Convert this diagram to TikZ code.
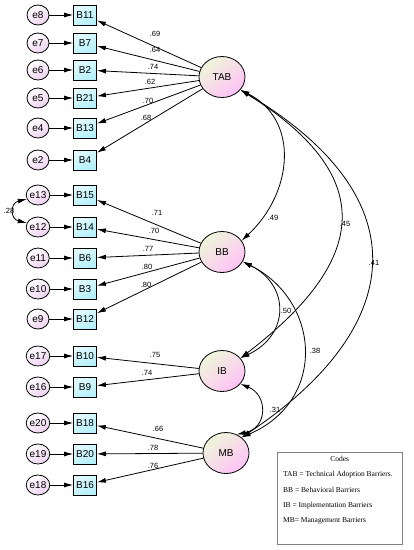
\documentclass[tikz,border=0pt]{standalone}
\usepackage{fontspec}
\setmainfont{Liberation Sans}
\newfontfamily\codesfont{Liberation Serif}
\usetikzlibrary{arrows.meta,shapes.geometric}
\definecolor{errf}{HTML}{EED2F0}
\definecolor{indf}{HTML}{B4F0FA}
\definecolor{latg}{HTML}{EEF6DA}
\definecolor{latp}{HTML}{FFC2F6}
\begin{document}
\begin{tikzpicture}[x=1pt,y=1pt,
  font=\fontsize{10}{11}\selectfont,
  err/.style={ellipse,draw,line width=0.8pt,top color=white,bottom color=errf,shading angle=30,minimum width=22pt,minimum height=20pt,inner sep=0pt},
  ind/.style={rectangle,draw,line width=0.8pt,top color=indf!40,bottom color=indf,shading angle=30,minimum width=23pt,minimum height=20pt,inner sep=0pt},
  lat/.style={ellipse,draw,line width=0.8pt,top color=latg,bottom color=latp,shading angle=40,minimum width=46pt,minimum height=41pt,inner sep=0pt},
  lbl/.style={font=\fontsize{7.5}{8}\selectfont,inner sep=0pt},
  code/.style={font=\codesfont\fontsize{7.5}{8}\selectfont,inner sep=0pt},
  path/.style={-{Latex[length=9pt,width=5pt]},line width=0.8pt},
  cov/.style={{Latex[length=9pt,width=5pt]}-{Latex[length=9pt,width=5pt]},line width=0.8pt}]
\useasboundingbox (0,0) rectangle (414,-550);
% indicators and their errors
\foreach \b/\e/\y in {B11/e8/15,B7/e7/43,B2/e6/70,B21/e5/98,B13/e4/128,B4/e2/160,
  B15/e13/195,B14/e12/227,B6/e11/258,B3/e10/289,B12/e9/319,
  B10/e17/356,B9/e16/387,B18/e20/423,B20/e19/454,B16/e18/485}{
  \node[ind] (\b) at (85,-\y) {\b};
  \node[err] (\e) at (38,-\y) {\e};
  \draw[path] (\e) -- (\b);
}
% latent factors
\node[lat] (TAB) at (222,-77) {TAB};
\node[lat] (BB) at (222,-252) {BB};
\node[lat] (IB) at (222,-371) {IB};
\node[lat] (MB) at (226,-453) {MB};
% loadings
\foreach \f/\b/\v/\lx/\ly in {TAB/B11/.69/155/34,TAB/B7/.64/155/50,TAB/B2/.74/153/67,
  TAB/B21/.62/150/82,TAB/B13/.70/148/101,TAB/B4/.68/146/118,
  BB/B15/.71/157/213,BB/B14/.70/154/231,BB/B6/.77/148/249,BB/B3/.80/147/267,BB/B12/.80/146/285,
  IB/B10/.75/155/355,IB/B9/.74/147/373,
  MB/B18/.66/158/429,MB/B20/.78/153/448,MB/B16/.76/153/466}{
  \draw[path] (\f) -- (\b);
  \node[lbl] (l-\b) at (\lx,-\ly) {\v};
}
% covariances
\draw[cov] (TAB.-35) .. controls (300,-120) and (293,-193) .. (BB.30);
\draw[cov] (TAB.-35) .. controls (385,-180) and (362,-265) .. (IB.35);
\draw[cov] (TAB.-35) .. controls (425,-200) and (403,-330) .. (MB.45);
\draw[cov] (BB.-25) .. controls (290,-285) and (290,-335) .. (IB.35);
\draw[cov] (BB.-25) .. controls (320,-300) and (328,-400) .. (MB.45);
\draw[cov] (IB.-35) .. controls (268,-395) and (268,-428) .. (MB.60);
\draw[cov] (e13.200) .. controls (10,-203) and (10,-219) .. (e12.160);
\node[lbl] (c-tb) at (273,-218) {.49};
\node[lbl] (c-ti) at (345,-224) {.45};
\node[lbl] (c-tm) at (374,-263) {.41};
\node[lbl] (c-bi) at (286,-311) {.50};
\node[lbl] (c-bm) at (315,-351) {.38};
\node[lbl] (c-im) at (275,-410) {.31};
\node[lbl] (c-e) at (9,-211) {.28};
% codes
\node[draw=gray,line width=0.5pt,minimum width=125pt,minimum height=92pt,anchor=north west,inner sep=0pt] (codes) at (277,-452) {};
\node[code] (k0) at (codes.north |- 0,-459) {Codes};
\node[code,anchor=west] (k1) at (283,-475) {TAB = Technical Adoption Barriers.};
\node[code,anchor=west] (k2) at (283,-490) {BB = Behavioral Barriers};
\node[code,anchor=west] (k3) at (283,-506) {IB = Implementation Barriers};
\node[code,anchor=west] (k4) at (283,-521) {MB= Management Barriers};
\end{tikzpicture}
\end{document}
